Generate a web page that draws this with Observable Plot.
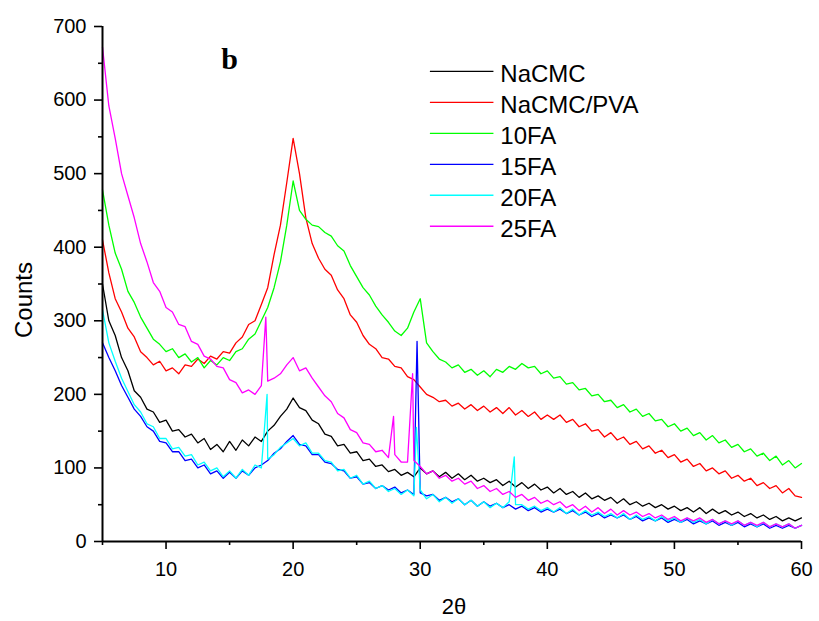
<!DOCTYPE html>
<html><head><meta charset="utf-8">
<script src="https://cdn.jsdelivr.net/npm/d3@7"></script>
<script src="https://cdn.jsdelivr.net/npm/@observablehq/plot@0.6"></script>
<style>html,body{margin:0;padding:0;background:#fff}</style>
</head><body><div id="chart"></div>
<script>
const seriesNames = ["NaCMC", "NaCMC/PVA", "10FA", "15FA", "20FA", "25FA"];
const seriesColors = ["#000000", "#ff0000", "#00ff00", "#0000ff", "#00ffff", "#ff00ff"];

// 2θ grid, 5° to 60° every 0.5°
const twoTheta = d3.range(111).map(i => 5 + i * 0.5);

const naCMC = [
  350,300,280,250,232,205,196,180,176,162,
  165,150,152,142,146,134,140,125,132,122,
  136,124,138,130,142,136,150,158,170,180,
  195,182,178,165,160,146,143,130,132,120,
  122,110,112,102,104,95,98,90,94,88,
  100,92,96,88,94,86,92,84,90,82,
  86,80,84,76,82,74,80,72,78,70,
  74,66,72,64,68,60,66,58,62,56,
  60,52,58,50,54,48,52,46,50,44,
  48,42,46,40,46,38,44,38,42,36,
  40,34,38,32,36,30,34,28,32,28,
  32];
const naCMCPVA = [
  410,365,330,312,290,278,258,250,240,245,
  232,236,228,240,238,248,242,252,248,258,
  256,270,278,295,300,322,345,390,430,488,
  548,500,440,405,385,370,362,342,330,308,
  298,280,268,262,250,248,238,236,224,220,
  210,200,196,190,192,184,188,180,186,178,
  184,176,182,174,182,172,178,170,176,166,
  172,166,172,162,166,156,160,150,152,142,
  148,138,142,132,136,126,130,120,124,114,
  118,108,112,102,106,96,100,92,96,86,
  90,82,86,76,80,72,76,66,72,62,
  60];
const fa10 = [
  478,430,392,370,340,325,305,290,275,268,
  258,262,250,255,244,250,236,246,240,250,
  246,258,262,275,282,300,318,345,380,430,
  490,450,438,430,428,420,415,402,395,375,
  360,345,335,320,308,298,286,280,290,312,
  330,270,258,248,244,236,240,230,234,226,
  232,224,234,230,238,234,242,236,238,228,
  232,222,224,214,216,206,208,198,200,190,
  192,182,186,176,180,170,174,164,166,156,
  160,150,154,144,148,138,144,134,138,128,
  132,122,126,116,120,110,116,104,110,100,
  106];
const fa15 = [
  270,250,232,212,196,180,170,156,150,136,
  134,122,122,110,112,100,104,92,96,86,
  94,86,96,90,100,104,110,120,126,136,
  144,132,130,118,118,108,106,98,96,86,
  88,78,80,72,76,70,74,66,70,64,
  66,62,64,56,60,54,58,50,56,48,
  54,48,52,46,50,44,48,42,46,40,
  44,40,44,38,42,36,40,34,38,32,
  36,32,36,30,34,28,32,28,32,26,
  30,26,30,24,28,24,28,22,26,22,
  26,20,24,20,24,18,22,18,22,18,
  22];
const fa20 = [
  315,270,245,222,204,186,176,160,156,140,
  140,126,128,116,118,104,108,96,100,88,
  96,86,98,90,104,100,112,118,128,134,
  140,130,134,120,120,110,108,96,98,86,
  90,78,82,72,76,68,72,64,70,62,
  70,58,64,54,60,52,58,50,56,48,
  54,46,52,46,54,50,50,44,48,42,
  46,40,46,38,44,36,42,36,40,34,
  38,32,38,30,36,30,34,28,34,28,
  32,26,32,26,30,24,30,24,28,22,
  28,22,26,20,26,20,24,20,24,18,
  22];
const fa25 = [
  672,592,548,500,470,440,405,380,352,340,
  318,312,295,292,272,268,252,248,238,236,
  220,216,202,206,200,212,218,222,228,240,
  250,232,236,222,210,198,190,174,168,152,
  148,134,132,122,124,114,118,108,108,110,
  102,92,96,86,90,82,86,78,82,72,
  76,68,72,64,68,60,64,56,60,52,
  56,50,54,46,50,42,48,40,46,38,
  44,36,42,36,40,34,38,32,36,30,
  34,28,32,28,32,26,30,24,28,24,
  28,22,26,22,26,20,24,20,24,18,
  22];

// narrow reflections between grid points: [2θ, counts]
const peaks15FA = [[29.75, 272]];
const peaks20FA = [[17.95, 200], [29.7, 155], [37.4, 115]];
const peaks25FA = [[17.85, 305], [27.9, 170], [29.4, 228]];

const xTicks = [10, 20, 30, 40, 50, 60];
const xMinorTicks = [5, 15, 25, 35, 45, 55];
const yTicks = [0, 100, 200, 300, 400, 500, 600, 700];
const yMinorTicks = [50, 150, 250, 350, 450, 550, 650];

const seriesValues = [naCMC, naCMCPVA, fa10, fa15, fa20, fa25];
const seriesPeaks = [[], [], [], peaks15FA, peaks20FA, peaks25FA];

const seriesRows = seriesNames.map((name, k) => {
  const rows = twoTheta.map((x, i) => ({x, y: seriesValues[k][i], name}));
  seriesPeaks[k].forEach(([x, y]) => rows.push({x, y, name}));
  rows.sort((a, b) => a.x - b.x);
  return rows;
});

const legendRows = seriesNames.map((name, i) => ({name, color: seriesColors[i], y: 639 - 42.1 * i}));

const plot = Plot.plot({
  width: 819,
  height: 621,
  marginLeft: 102,
  marginRight: 18,
  marginTop: 26,
  marginBottom: 80,
  style: {fontFamily: "'Liberation Sans', Arial, sans-serif", background: "#fff", color: "#000"},
  x: {domain: [5, 60]},
  y: {domain: [0, 700]},
  marks: [
    ...seriesRows.map((rows, k) => Plot.line(rows, {x: "x", y: "y", stroke: seriesColors[k], strokeWidth: 1.3})),
    Plot.axisY({ticks: yTicks, tickSize: 8, tickPadding: 8, fontSize: 20, strokeWidth: 1.6, label: null}),
    Plot.axisY({ticks: yMinorTicks, tickSize: 4, text: null, strokeWidth: 1.6, label: null}),
    Plot.axisX({ticks: xTicks, tickSize: 8, tickPadding: 12, fontSize: 20, strokeWidth: 1.6, label: null}),
    Plot.axisX({ticks: xMinorTicks, tickSize: 4, text: null, strokeWidth: 1.6, label: null}),
    Plot.ruleX([5], {strokeWidth: 2}),
    Plot.ruleY([0], {strokeWidth: 2}),
    Plot.ruleY(legendRows, {y: "y", x1: 30.8, x2: 35.8, stroke: "color", strokeWidth: 1.3}),
    Plot.text(legendRows, {y: "y", x: 36.3, text: "name", textAnchor: "start", lineAnchor: "middle", dy: 3, fontSize: 24, fill: "#000"}),
    Plot.text(["b"], {frameAnchor: "top-left", dx: 127, dy: 33, fontSize: 30, fontWeight: "bold", fontFamily: "'Liberation Serif', 'Times New Roman', serif", textAnchor: "middle", lineAnchor: "middle"}),
    Plot.text(["Counts"], {frameAnchor: "left", dx: -78, dy: 16, rotate: -90, fontSize: 24, textAnchor: "middle", lineAnchor: "middle"}),
    Plot.text(["2θ"], {frameAnchor: "bottom", dx: 2, dy: 65, fontSize: 22, textAnchor: "middle", lineAnchor: "middle"})
  ]
});
document.getElementById("chart").appendChild(plot);
</script>
</body></html>
